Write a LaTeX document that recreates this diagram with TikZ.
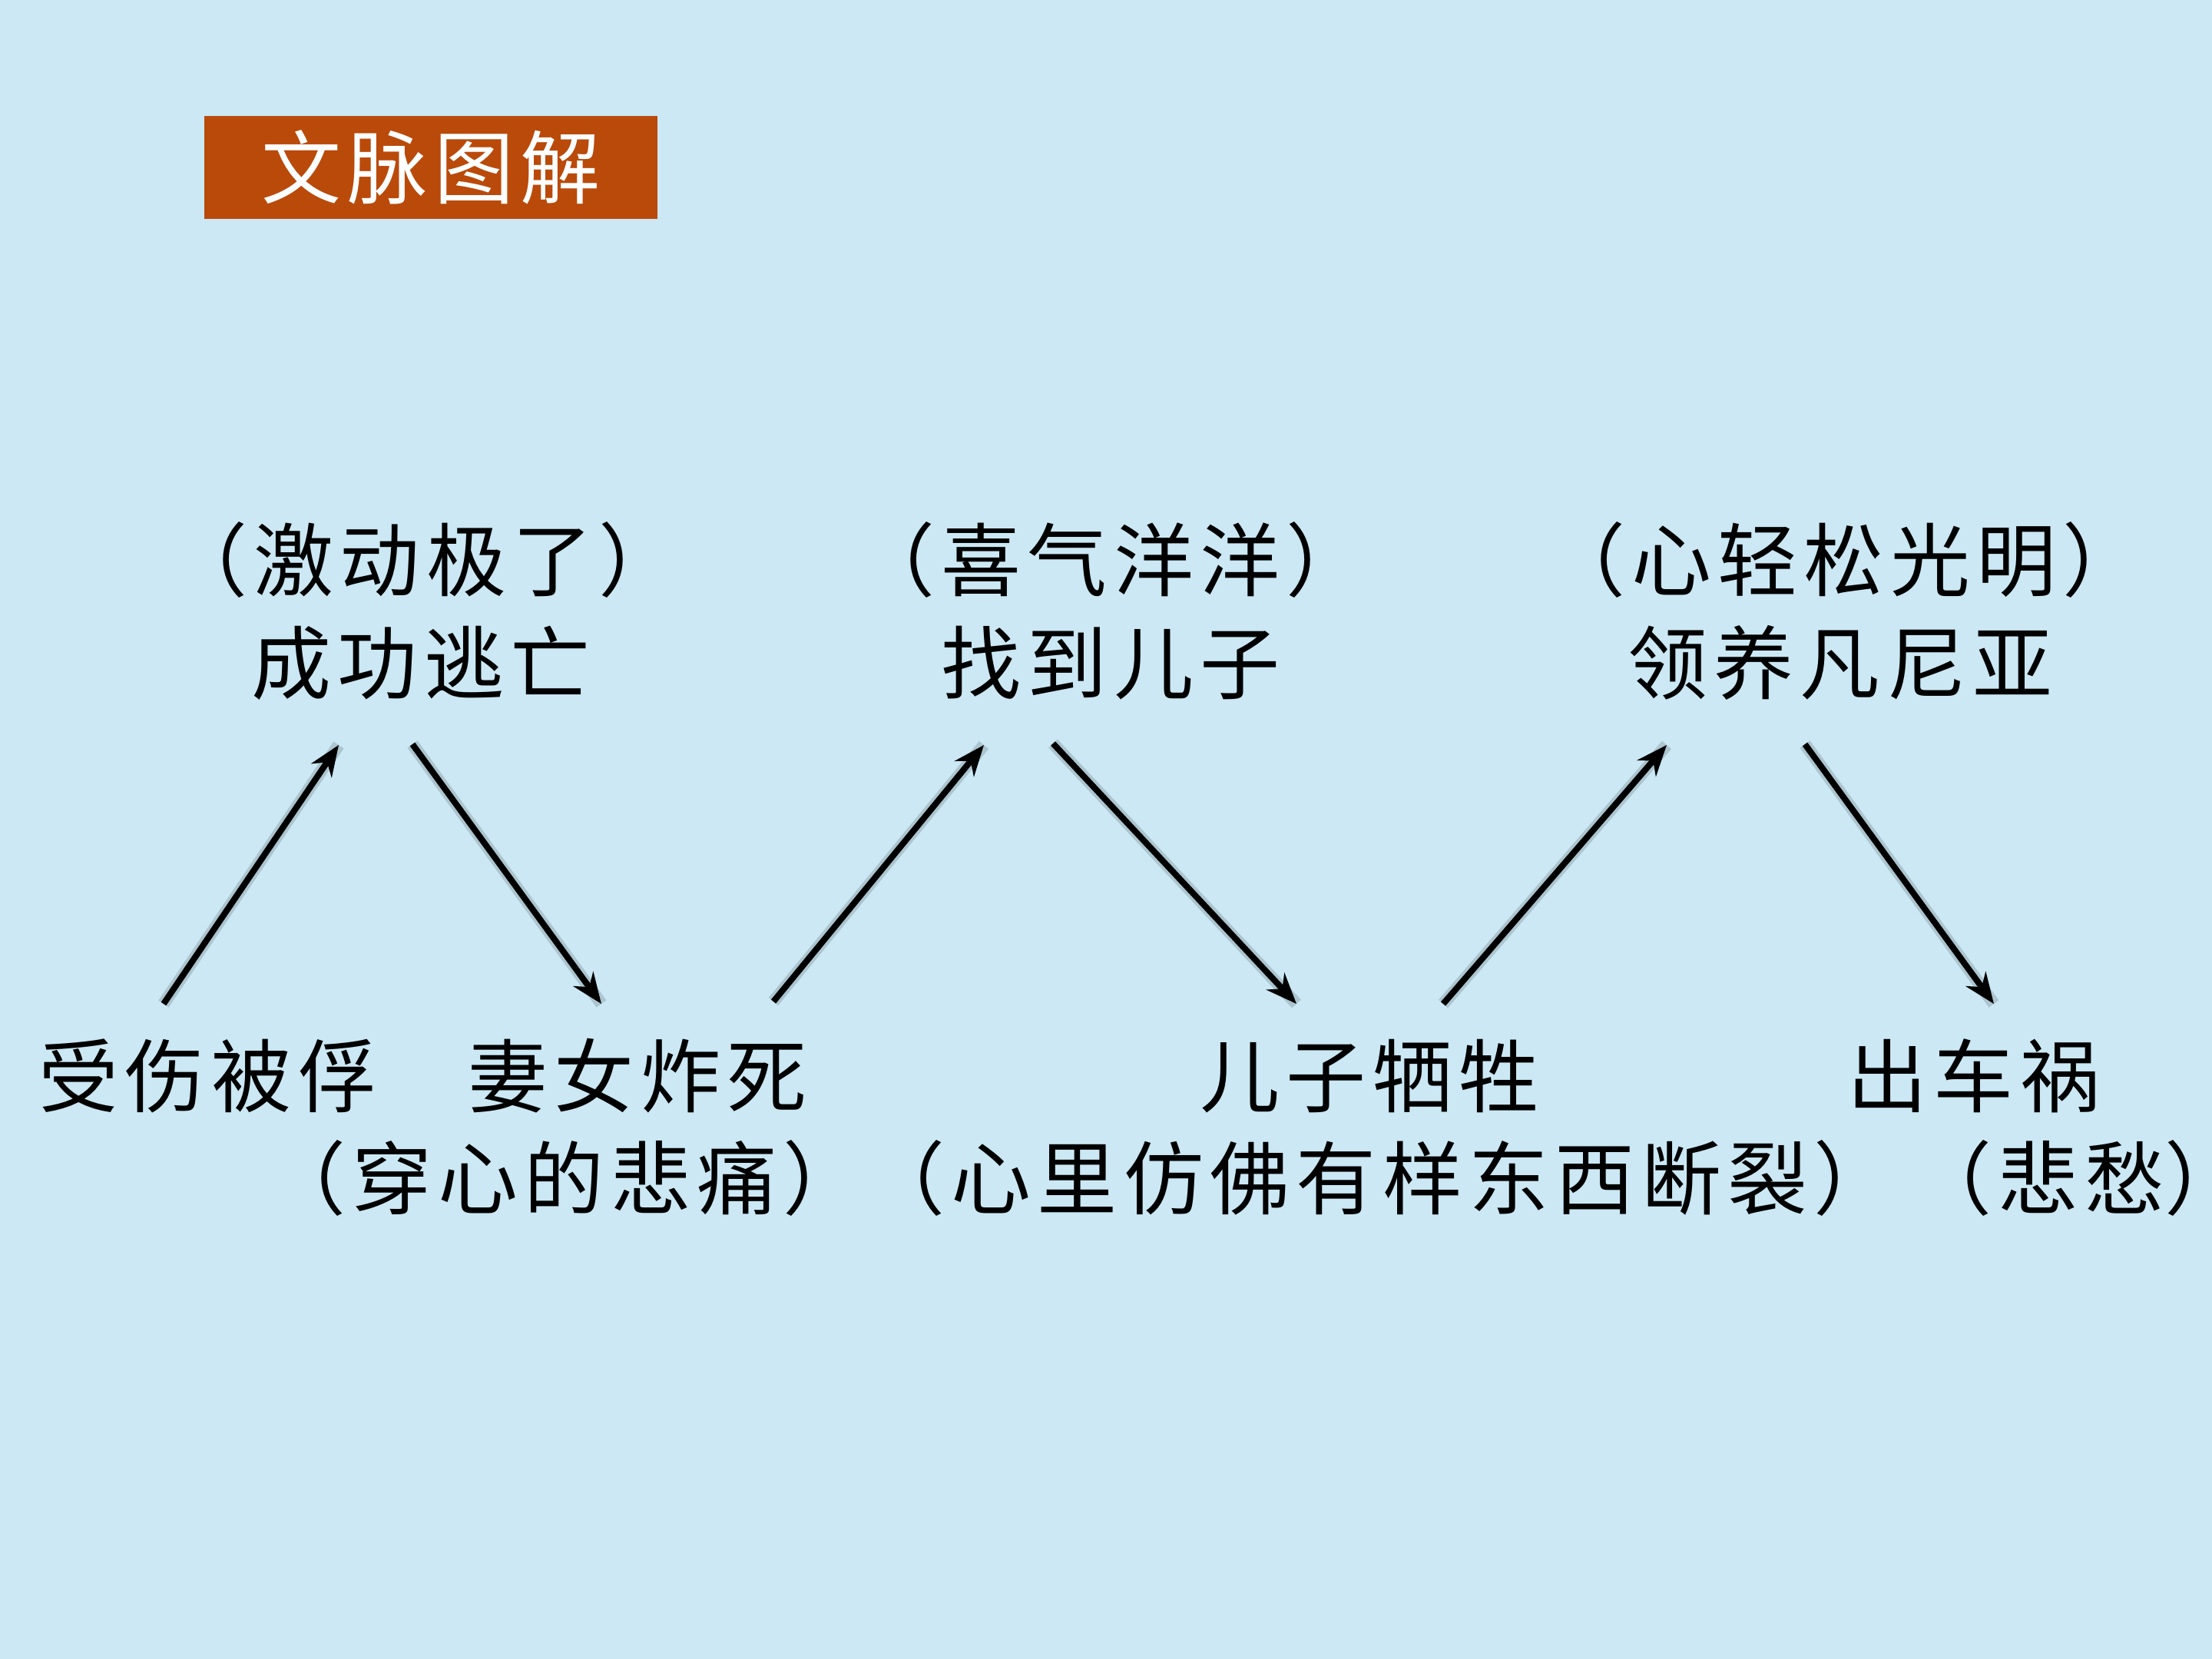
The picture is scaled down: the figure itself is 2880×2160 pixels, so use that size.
\documentclass[tikz,border=0pt]{standalone}
\usepackage{fontspec}
\setmainfont{Noto Sans CJK SC}[LetterSpace=8]
\usetikzlibrary{arrows.meta}
\definecolor{bgblue}{RGB}{203,232,244}
\definecolor{titlebg}{RGB}{186,74,10}
\begin{document}
\begin{tikzpicture}[x=0.25pt,y=-0.25pt,
  txt/.style={inner sep=0pt,font=\fontsize{26pt}{30pt}\selectfont,text=black},
  arr/.style={line width=2pt,-{Stealth[length=10pt,width=8pt]},
    preaction={draw=black,opacity=0.15,line width=4pt,-}}]
\fill[bgblue] (0,0) rectangle (2880,2160);
\useasboundingbox (0,0) rectangle (2880,2160);
% title
\node[fill=titlebg,minimum width=147.5pt,minimum height=33.5pt,inner sep=0pt,
  text=white,font=\fontsize{26pt}{30pt}\selectfont] (title) at (561,218) {文脉图解};
% top texts
\node[txt] (e1) at (551,729) {（激动极了）};
\node[txt] (t1) at (548,863) {成功逃亡};
\node[txt] (e2) at (1446,729) {（喜气洋洋）};
\node[txt] (t2) at (1446,863) {找到儿子};
\node[txt] (e3) at (2401,729) {（心轻松光明）};
\node[txt] (t3) at (2396,863) {领养凡尼亚};
% bottom texts
\node[txt] (b1) at (271,1401) {受伤被俘};
\node[txt] (b2) at (830,1401) {妻女炸死};
\node[txt] (f2) at (735,1534) {（穿心的悲痛）};
\node[txt] (b3) at (1783,1401) {儿子牺牲};
\node[txt] (f3) at (1796,1534) {（心里仿佛有样东西断裂）};
\node[txt] (b4) at (2570,1401) {出车祸};
\node[txt,anchor=east] (f4) at (2819,1534) {（悲愁\rlap{）}};
% arrow endpoints
\coordinate (a1s) at (213,1307); \coordinate (a1e) at (441,970);
\coordinate (a2s) at (537,969);  \coordinate (a2e) at (783,1307);
\coordinate (a3s) at (1007,1304); \coordinate (a3e) at (1281,970);
\coordinate (a4s) at (1371,968); \coordinate (a4e) at (1688,1307);
\coordinate (a5s) at (1879,1307); \coordinate (a5e) at (2170,970);
\coordinate (a6s) at (2350,969); \coordinate (a6e) at (2596,1307);
\draw[arr] (a1s) -- (a1e);
\draw[arr] (a2s) -- (a2e);
\draw[arr] (a3s) -- (a3e);
\draw[arr] (a4s) -- (a4e);
\draw[arr] (a5s) -- (a5e);
\draw[arr] (a6s) -- (a6e);
\end{tikzpicture}
\end{document}
